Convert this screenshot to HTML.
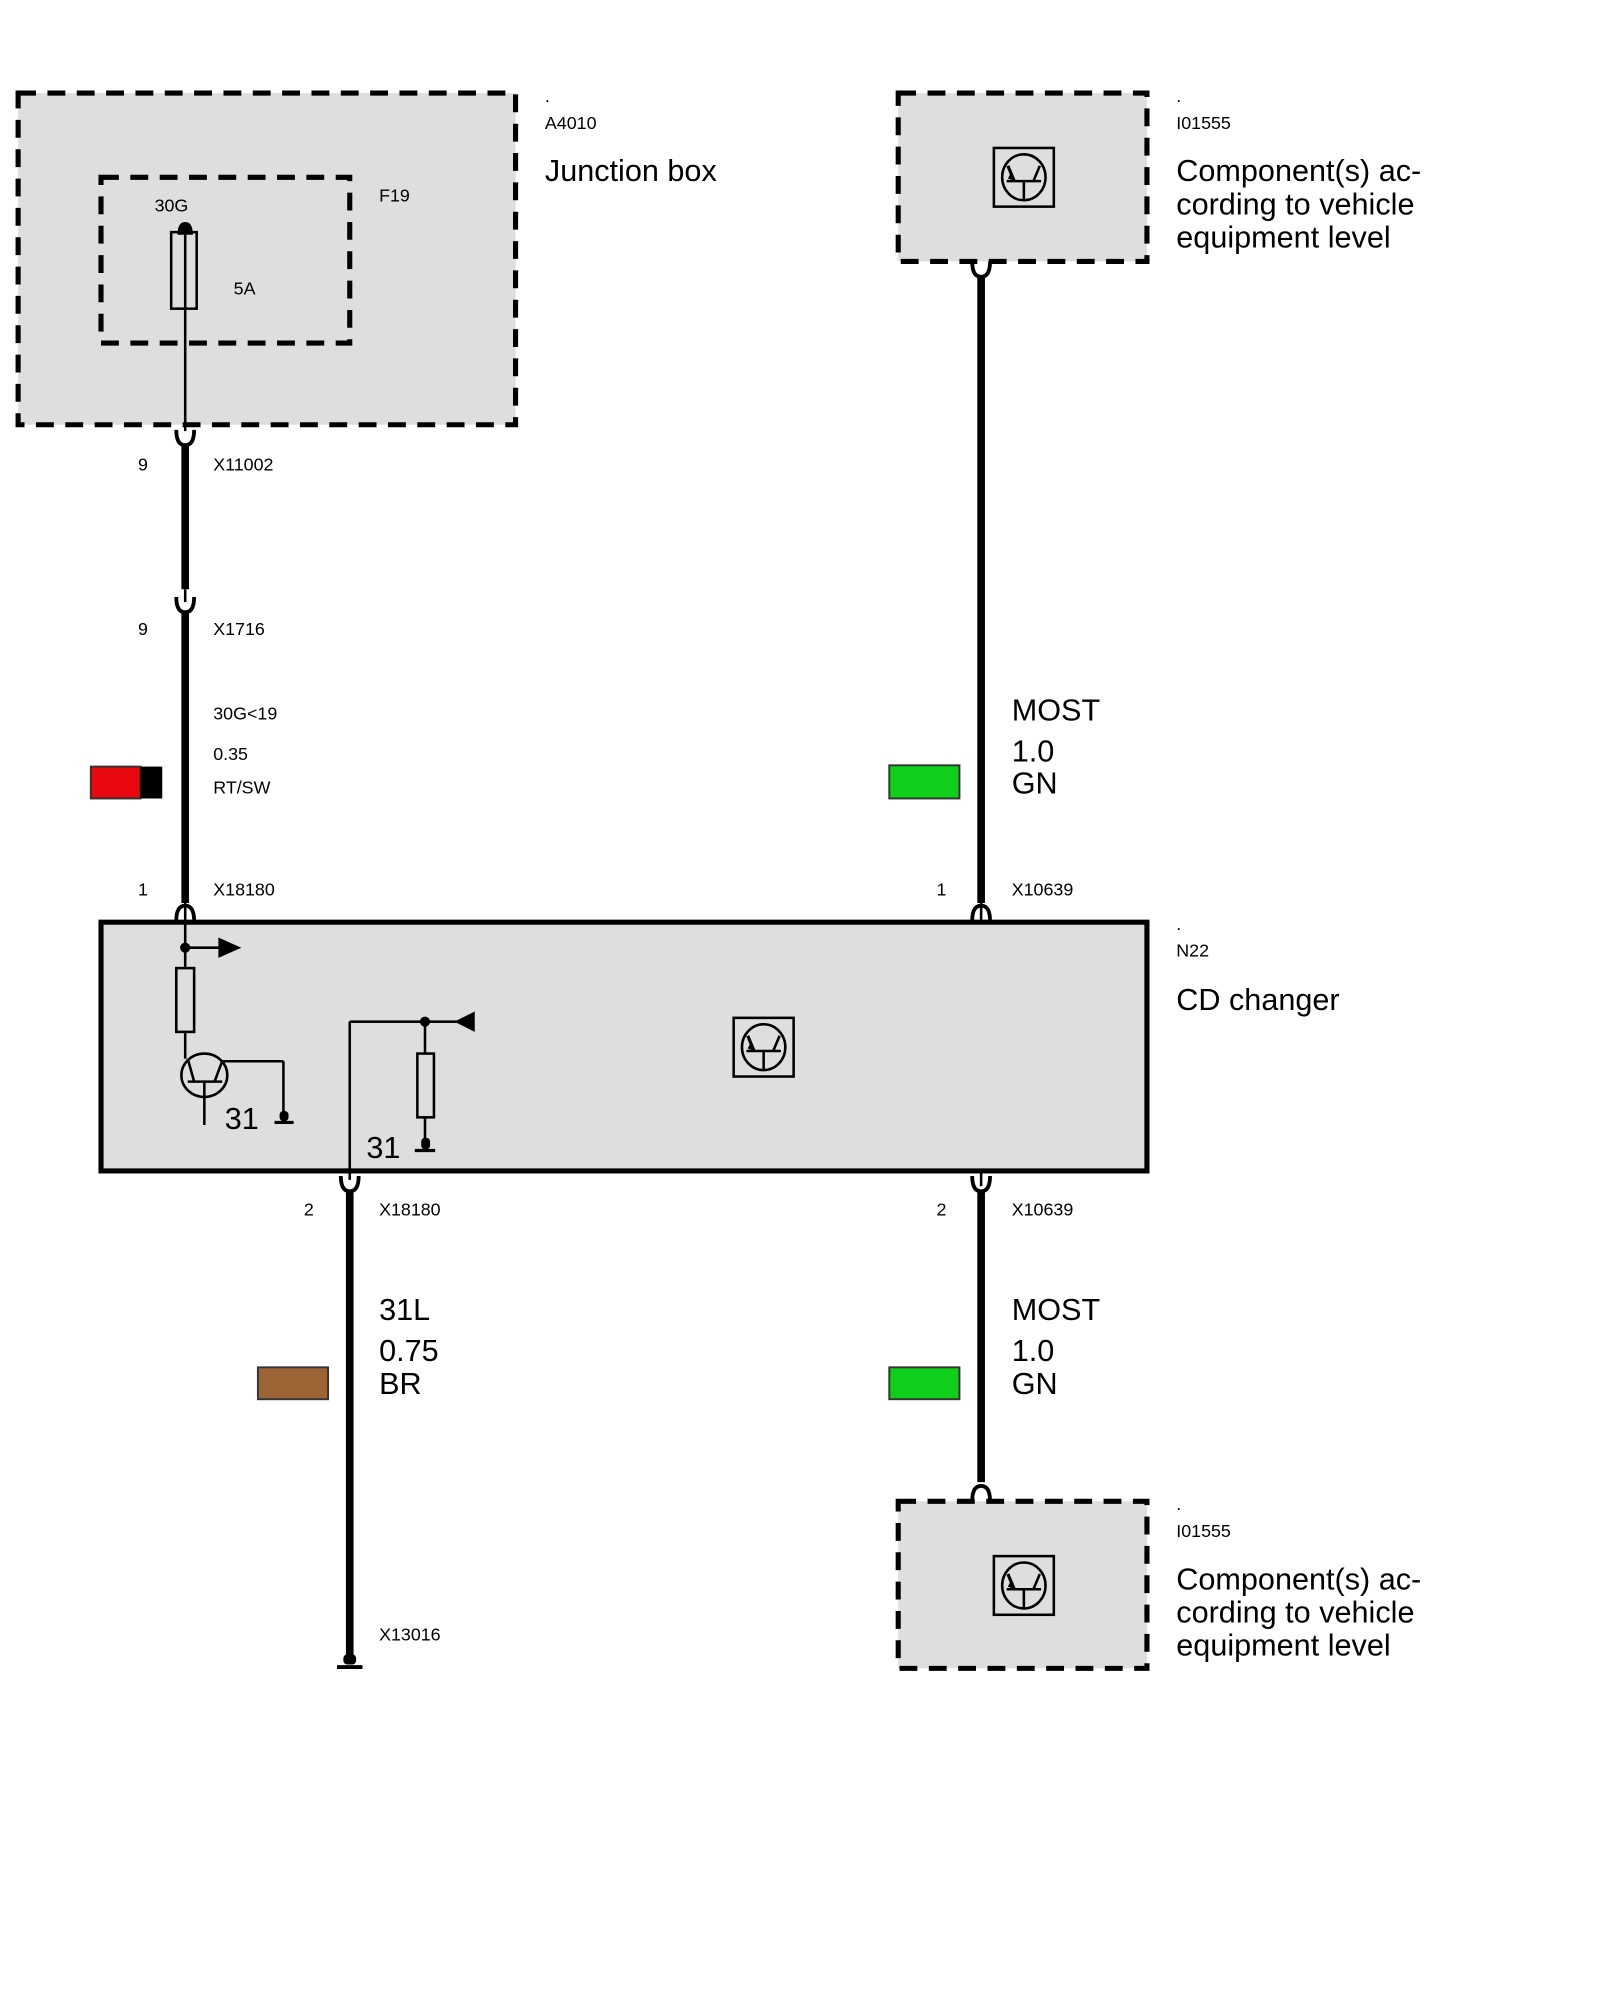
<!DOCTYPE html>
<html><head><meta charset="utf-8"><style>
html,body{margin:0;padding:0;background:#fff;}
svg{display:block;}
text{font-family:"Liberation Sans",Arial,sans-serif;fill:#000;}
.s{font-size:14px;}
.b{font-size:24px;}
</style></head><body>
<svg width="1600" height="2000" viewBox="0 0 1254 1568" xmlns="http://www.w3.org/2000/svg">
<defs>
<g id="ic">
<rect x="0" y="0" width="47" height="46" fill="none" stroke="#000" stroke-width="2"/>
<ellipse cx="23.5" cy="23" rx="17" ry="18" fill="none" stroke="#000" stroke-width="2"/>
<line x1="10" y1="26" x2="37" y2="26" stroke="#000" stroke-width="2"/>
<line x1="23.5" y1="26" x2="23.5" y2="41" stroke="#000" stroke-width="2"/>
<line x1="11" y1="14" x2="16" y2="26" stroke="#000" stroke-width="2.5"/>
<line x1="36" y1="14" x2="31" y2="26" stroke="#000" stroke-width="2"/>
<path d="M13,20 L17,26 L11,24 Z" fill="#000"/>
</g>
<g id="cupdown"><path d="M-7,-8 Q-7,4 0,4 Q7,4 7,-8" fill="none" stroke="#000" stroke-width="3"/></g>
<g id="cupup"><path d="M-7,8 Q-7,-4 0,-4 Q7,-4 7,8" fill="none" stroke="#000" stroke-width="3"/></g>
</defs>

<rect x="14" y="73" width="390" height="260" fill="#dedede" stroke="#000" stroke-width="4" stroke-dasharray="14,9"/>
<rect x="79" y="139" width="195" height="130" fill="none" stroke="#000" stroke-width="4" stroke-dasharray="14,9"/>
<rect x="134" y="182" width="20" height="60" fill="none" stroke="#000" stroke-width="2"/>
<line x1="145" y1="178" x2="145" y2="338" stroke="#000" stroke-width="2"/>
<path d="M139,184 Q139,174 145,174 Q151,174 151,184 Z" fill="#000"/>
<text class="s" x="121" y="166">30G</text>
<text class="s" x="183" y="231">5A</text>
<text class="s" x="297" y="158">F19</text>
<text class="s" x="427" y="80">.</text>
<text class="s" x="427" y="101">A4010</text>
<text class="b" x="427" y="142">Junction box</text>

<use href="#cupdown" x="145" y="345"/>
<line x1="145" y1="349" x2="145" y2="462" stroke="#000" stroke-width="6"/>
<line x1="145" y1="462" x2="145" y2="472" stroke="#000" stroke-width="2"/>
<use href="#cupdown" x="145" y="476"/>
<line x1="145" y1="480" x2="145" y2="708" stroke="#000" stroke-width="6"/>
<text class="s" x="108" y="369">9</text>
<text class="s" x="167" y="369">X11002</text>
<text class="s" x="108" y="498">9</text>
<text class="s" x="167" y="498">X1716</text>
<text class="s" x="167" y="564">30G&lt;19</text>
<text class="s" x="167" y="596">0.35</text>
<text class="s" x="167" y="622">RT/SW</text>
<rect x="71" y="601" width="39" height="25" fill="#e8080e" stroke="#333" stroke-width="1.5"/>
<rect x="110" y="601" width="17" height="25" fill="#000"/>
<text class="s" x="108" y="702">1</text>
<text class="s" x="167" y="702">X18180</text>
<use href="#cupup" x="145" y="714"/>
<line x1="145" y1="708" x2="145" y2="725" stroke="#000" stroke-width="2"/>

<rect x="704" y="73" width="195" height="132" fill="#dedede" stroke="#000" stroke-width="4" stroke-dasharray="14,9"/>
<use href="#ic" x="779" y="116"/>
<text class="s" x="922" y="80">.</text>
<text class="s" x="922" y="101">I01555</text>
<text class="b" x="922" y="142">Component(s) ac-</text>
<text class="b" x="922" y="168">cording to vehicle</text>
<text class="b" x="922" y="194">equipment level</text>
<use href="#cupdown" x="769" y="213"/>
<line x1="769" y1="217" x2="769" y2="708" stroke="#000" stroke-width="6"/>
<text class="b" x="793" y="565">MOST</text>
<text class="b" x="793" y="597">1.0</text>
<text class="b" x="793" y="622">GN</text>
<rect x="697" y="600" width="55" height="26" fill="#0fcf1a" stroke="#333" stroke-width="1.5"/>
<text class="s" x="734" y="702">1</text>
<text class="s" x="793" y="702">X10639</text>
<use href="#cupup" x="769" y="714"/>
<line x1="769" y1="708" x2="769" y2="725" stroke="#000" stroke-width="2"/>

<rect x="79" y="723" width="820" height="195" fill="#dedede" stroke="#000" stroke-width="4"/>
<text class="s" x="922" y="729">.</text>
<text class="s" x="922" y="750">N22</text>
<text class="b" x="922" y="792">CD changer</text>
<use href="#ic" x="575" y="798"/>
<line x1="145" y1="723" x2="145" y2="759" stroke="#000" stroke-width="2"/>
<circle cx="145" cy="743" r="4" fill="#000"/>
<line x1="145" y1="743" x2="173" y2="743" stroke="#000" stroke-width="2"/>
<path d="M171,735 L189,743 L171,751 Z" fill="#000"/>
<rect x="138" y="759" width="14" height="50" fill="none" stroke="#000" stroke-width="2"/>
<line x1="145" y1="809" x2="145" y2="830" stroke="#000" stroke-width="2"/>
<ellipse cx="160" cy="843" rx="18" ry="17" fill="none" stroke="#000" stroke-width="2"/>
<line x1="147" y1="848" x2="174" y2="848" stroke="#000" stroke-width="2"/>
<line x1="160" y1="848" x2="160" y2="882" stroke="#000" stroke-width="2"/>
<line x1="147" y1="830" x2="152" y2="848" stroke="#000" stroke-width="2"/>
<line x1="174" y1="832" x2="168" y2="848" stroke="#000" stroke-width="2"/>
<line x1="174" y1="832" x2="222" y2="832" stroke="#000" stroke-width="2"/>
<line x1="222" y1="832" x2="222" y2="876" stroke="#000" stroke-width="2"/>
<rect x="219" y="871" width="7" height="8" rx="3" fill="#000"/>
<line x1="215" y1="880" x2="230" y2="880" stroke="#000" stroke-width="2.5"/>
<text class="b" x="176" y="885">31</text>
<line x1="274" y1="925" x2="274" y2="801" stroke="#000" stroke-width="2"/>
<line x1="274" y1="801" x2="358" y2="801" stroke="#000" stroke-width="2"/>
<circle cx="333" cy="801" r="4" fill="#000"/>
<path d="M356,801 L372,793 L372,809 Z" fill="#000"/>
<line x1="333" y1="801" x2="333" y2="826" stroke="#000" stroke-width="2"/>
<rect x="327" y="826" width="13" height="50" fill="none" stroke="#000" stroke-width="2"/>
<line x1="333" y1="876" x2="333" y2="896" stroke="#000" stroke-width="2"/>
<rect x="330" y="892" width="7" height="9" rx="3" fill="#000"/>
<line x1="325" y1="902" x2="341" y2="902" stroke="#000" stroke-width="2.5"/>
<text class="b" x="287" y="908">31</text>

<use href="#cupdown" x="274" y="930"/>
<line x1="274" y1="934" x2="274" y2="1298" stroke="#000" stroke-width="6"/>
<rect x="269" y="1297" width="10" height="8" rx="3" fill="#000"/>
<line x1="264" y1="1307" x2="284" y2="1307" stroke="#000" stroke-width="3"/>
<text class="s" x="238" y="953">2</text>
<text class="s" x="297" y="953">X18180</text>
<text class="b" x="297" y="1035">31L</text>
<text class="b" x="297" y="1067">0.75</text>
<text class="b" x="297" y="1093">BR</text>
<rect x="202" y="1072" width="55" height="25" fill="#9b6535" stroke="#333" stroke-width="1.5"/>
<text class="s" x="297" y="1286">X13016</text>

<line x1="769" y1="918" x2="769" y2="930" stroke="#000" stroke-width="2"/>
<use href="#cupdown" x="769" y="930"/>
<line x1="769" y1="934" x2="769" y2="1162" stroke="#000" stroke-width="6"/>
<use href="#cupup" x="769" y="1169"/>
<text class="s" x="734" y="953">2</text>
<text class="s" x="793" y="953">X10639</text>
<text class="b" x="793" y="1035">MOST</text>
<text class="b" x="793" y="1067">1.0</text>
<text class="b" x="793" y="1093">GN</text>
<rect x="697" y="1072" width="55" height="25" fill="#0fcf1a" stroke="#333" stroke-width="1.5"/>

<rect x="704" y="1177" width="195" height="131" fill="#dedede" stroke="#000" stroke-width="4" stroke-dasharray="14,9"/>
<use href="#ic" x="779" y="1220"/>
<text class="s" x="922" y="1184">.</text>
<text class="s" x="922" y="1205">I01555</text>
<text class="b" x="922" y="1246">Component(s) ac-</text>
<text class="b" x="922" y="1272">cording to vehicle</text>
<text class="b" x="922" y="1298">equipment level</text>
</svg>
</body></html>
